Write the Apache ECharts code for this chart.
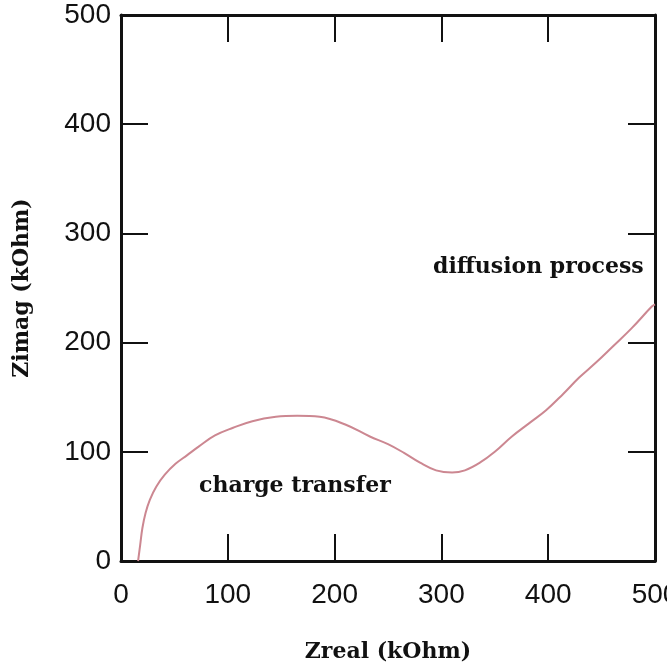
<!doctype html>
<html>
<head>
<meta charset="utf-8">
<title>Nyquist plot</title>
<script src="https://cdn.jsdelivr.net/npm/echarts@6/dist/echarts.min.js"></script>
<style>
  html, body { margin: 0; padding: 0; background: #fff; }
  #main { width: 667px; height: 668px; }
</style>
</head>
<body>
<div id="main"></div>
<script>
// impedance curve (kOhm)
var zReal = [16, 18, 20, 23, 27, 33, 41, 51, 62, 73, 88, 105, 123, 145, 165, 186, 210, 233, 250, 265, 280, 295, 310, 322, 336, 350, 366, 382, 398, 414, 429, 445, 460, 478, 497, 500];
var zImag = [0, 15, 30, 44, 56, 68, 79, 89, 97, 105, 115, 122, 128, 132, 133, 132, 125, 114, 107, 99, 90, 83, 81, 83, 90, 100, 114, 126, 138, 153, 168, 182, 196, 213, 233, 235];
var xTicks = [0, 100, 200, 300, 400, 500];
var yTicks = [0, 100, 200, 300, 400, 500];

var points = [];
for (var i = 0; i < zReal.length; i++) {
  points.push([zReal[i], zImag[i]]);
}

var serif = '"DejaVu Serif", "Liberation Serif", serif';
var lineStyle = { color: '#111', width: 3 };
var tickStyle = { color: '#111', width: 2 };

function makeAxis(pos, showLabel, ticks) {
  return {
    type: 'value',
    position: pos,
    min: ticks[0],
    max: ticks[ticks.length - 1],
    interval: 100,
    axisLine: { show: true, onZero: false, lineStyle: lineStyle },
    axisTick: { show: true, inside: true, length: 27, lineStyle: tickStyle },
    axisLabel: {
      show: showLabel,
      color: '#111',
      fontSize: 28,
      fontFamily: '"Liberation Sans", Arial, sans-serif',
      margin: pos === 'bottom' ? 20 : 10
    },
    splitLine: { show: false }
  };
}

var xb = makeAxis('bottom', true, xTicks);
xb.name = 'Zreal (kOhm)';
xb.nameLocation = 'middle';
xb.nameGap = 80;
xb.nameTextStyle = { color: '#111', fontSize: 22, fontWeight: 'bold', fontFamily: serif };

var yl = makeAxis('left', true, yTicks);
yl.name = 'Zimag (kOhm)';
yl.nameLocation = 'middle';
yl.nameGap = 88;
yl.nameTextStyle = { color: '#111', fontSize: 22, fontWeight: 'bold', fontFamily: serif };

var myChart = echarts.init(document.getElementById('main'));
var option = {
  animation: false,
  backgroundColor: '#fff',
  grid: { left: 121, right: 12, top: 15, bottom: 107, containLabel: false, outerBoundsMode: 'none' },
  xAxis: [xb, makeAxis('top', false, xTicks)],
  yAxis: [yl, makeAxis('right', false, yTicks)],
  series: [{
    type: 'line',
    data: points,
    smooth: 0.4,
    showSymbol: false,
    clip: true,
    lineStyle: { color: '#cc8791', width: 2 }
  }],
  graphic: [
    {
      type: 'text', left: 433, top: 256,
      style: { text: 'diffusion process', fill: '#111', font: 'bold 22px ' + serif }
    },
    {
      type: 'text', left: 199, top: 475,
      style: { text: 'charge transfer', fill: '#111', font: 'bold 22px ' + serif }
    }
  ]
};
myChart.setOption(option);
</script>
</body>
</html>
